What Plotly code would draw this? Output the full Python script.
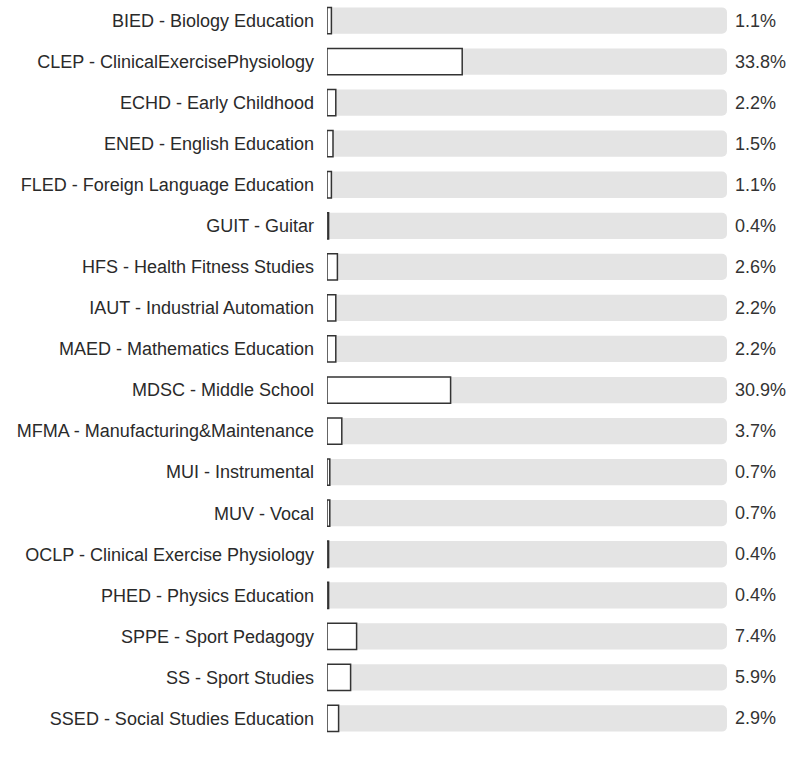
import plotly.graph_objects as go

categories = [
    "BIED - Biology Education",
    "CLEP - ClinicalExercisePhysiology",
    "ECHD - Early Childhood",
    "ENED - English Education",
    "FLED - Foreign Language Education",
    "GUIT - Guitar",
    "HFS - Health Fitness Studies",
    "IAUT - Industrial Automation",
    "MAED - Mathematics Education",
    "MDSC - Middle School",
    "MFMA - Manufacturing&Maintenance",
    "MUI - Instrumental",
    "MUV - Vocal",
    "OCLP - Clinical Exercise Physiology",
    "PHED - Physics Education",
    "SPPE - Sport Pedagogy",
    "SS - Sport Studies",
    "SSED - Social Studies Education",
]
values = [1.1, 33.8, 2.2, 1.5, 1.1, 0.4, 2.6, 2.2, 2.2, 30.9, 3.7, 0.7, 0.7, 0.4, 0.4, 7.4, 5.9, 2.9]
track_max = [100] * len(categories)
value_labels = [f"{v:.1f}%" for v in values]

FONT = "Liberation Sans, Arial, Helvetica, sans-serif"

fig = go.Figure()
fig.add_trace(go.Bar(
    y=categories, x=track_max, orientation="h",
    marker=dict(color="#e4e4e4", line=dict(width=0), cornerradius=5),
    hoverinfo="skip", showlegend=False,
))
fig.add_trace(go.Bar(
    y=categories, x=values, orientation="h",
    marker=dict(color="#ffffff", line=dict(color="#333333", width=1.5), cornerradius=8),
    showlegend=False,
))

annotations = [
    dict(x=t, y=c, xref="x", yref="y", text=lbl, showarrow=False,
         xanchor="left", yanchor="middle", xshift=6,
         font=dict(family=FONT, size=18, color="#333333"))
    for t, c, lbl in zip(track_max, categories, value_labels)
]

fig.update_layout(
    width=792, height=759,
    margin=dict(l=327, r=65, t=0, b=20),
    barmode="overlay", bargap=0.36,
    plot_bgcolor="white", paper_bgcolor="white",
    font=dict(family=FONT, size=18, color="#333333"),
    xaxis=dict(range=[0, 100], visible=False, fixedrange=True),
    yaxis=dict(range=[len(categories) - 0.5, -0.5], showgrid=False, zeroline=False,
               showline=False, ticks="", ticklabelstandoff=12, automargin=False,
               tickfont=dict(family=FONT, size=18, color="#2a2a2a")),
    annotations=annotations,
)

fig.write_html("out.html", config={"displayModeBar": False},
               post_script="document.body.style.margin='0';")
